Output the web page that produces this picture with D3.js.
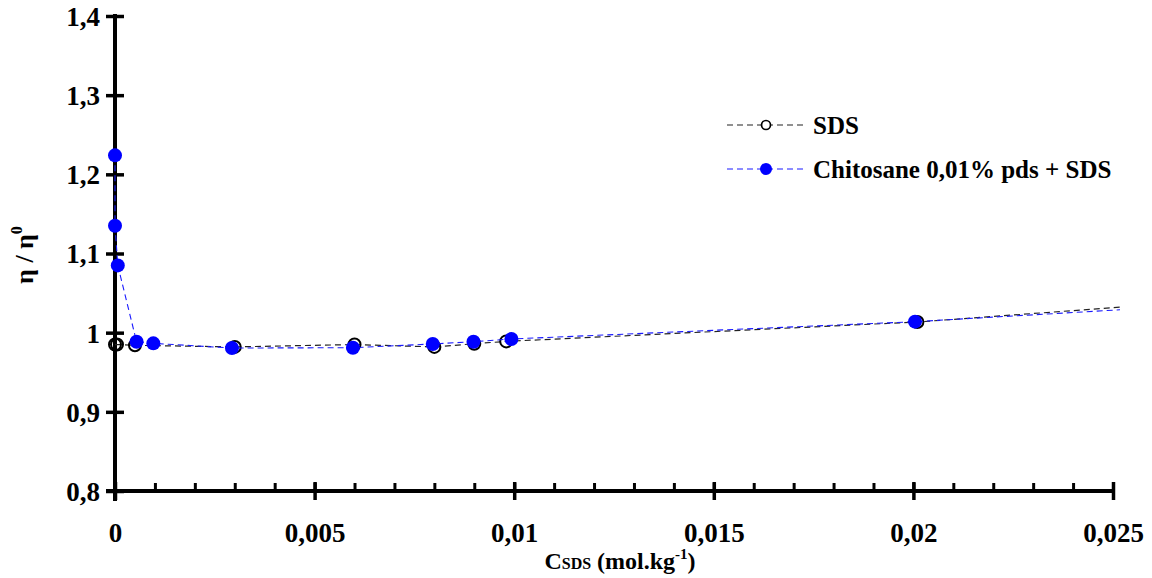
<!DOCTYPE html>
<html>
<head>
<meta charset="utf-8">
<script src="https://cdn.jsdelivr.net/npm/d3@7"></script>
<style>
  html, body { margin: 0; padding: 0; background: #fff; }
  svg { display: block; }
  text { font-family: "Liberation Serif", "Times New Roman", serif; font-weight: bold; fill: #000; }
</style>
</head>
<body>
<svg id="chart" width="1152" height="578"></svg>
<script>
// ---- data ----
const sdsX  = [0, 0.00005, 0.0005, 0.003, 0.006, 0.008, 0.009, 0.0098, 0.0201, 0.03];
const sdsY  = [0.985, 0.985, 0.984, 0.982, 0.985, 0.982, 0.986, 0.989, 1.0135, 1.05];
const chitX = [0, 0, 0.00007, 0.00054, 0.00096, 0.00293, 0.00596, 0.00796, 0.00898, 0.00993, 0.02004, 0.03];
const chitY = [1.224, 1.135, 1.085, 0.9886, 0.9865, 0.9806, 0.981, 0.9857, 0.9886, 0.992, 1.0139, 1.043];
const seriesNames = ["SDS", "Chitosane 0,01% pds + SDS"];
const xTickValues = [0, 0.005, 0.01, 0.015, 0.02, 0.025];
const xTickLabels = ["0", "0,005", "0,01", "0,015", "0,02", "0,025"];
const xMinorTicks = d3.range(0, 0.0251, 0.001);
const yTickValues = [0.8, 0.9, 1.0, 1.1, 1.2, 1.3, 1.4];
const yTickLabels = ["0,8", "0,9", "1", "1,1", "1,2", "1,3", "1,4"];

// ---- layout ----
const svg = d3.select("#chart");
const x = d3.scaleLinear().domain([0, 0.025]).range([115, 1113]);
const y = d3.scaleLinear().domain([0.8, 1.4]).range([491, 16]);
const axisY0 = 491;
const FONT = '"Liberation Serif", "Times New Roman", serif';

svg.append("defs").append("clipPath").attr("id", "plotclip")
  .append("rect").attr("x", 100).attr("y", 0).attr("width", 1020).attr("height", 500);

// ---- axes ----
// minor x ticks (upward only)
const gMinor = svg.append("g").attr("transform", `translate(0,${axisY0})`)
  .call(d3.axisBottom(x).tickValues(xMinorTicks).tickSize(0).tickFormat(""));
gMinor.select(".domain").remove();
gMinor.selectAll(".tick line").attr("y1", 0).attr("y2", -8)
  .attr("stroke", "#000").attr("stroke-width", 3);

// major x ticks (crossing)
const gx = svg.append("g").attr("transform", `translate(0,${axisY0})`)
  .call(d3.axisBottom(x).tickValues(xTickValues).tickSize(9)
    .tickFormat((d, i) => xTickLabels[i]));
gx.select(".domain").attr("d", `M106,0H1115`).attr("stroke", "#000").attr("stroke-width", 4);
gx.selectAll(".tick line").attr("y1", -9).attr("y2", 9).attr("stroke", "#000").attr("stroke-width", 3.5);
gx.selectAll(".tick text").attr("y", 51).attr("dy", 0)
  .style("font-size", "27px").style("font-family", FONT).style("font-weight", "bold");

// y axis
const gy = svg.append("g").attr("transform", `translate(${x(0)},0)`)
  .call(d3.axisLeft(y).tickValues(yTickValues).tickSize(9)
    .tickFormat((d, i) => yTickLabels[i]));
gy.select(".domain").attr("d", `M0,${y(1.4) - 2}V${axisY0 + 10}`).attr("stroke", "#000").attr("stroke-width", 4);
gy.selectAll(".tick line").attr("x1", 9).attr("x2", -9).attr("stroke", "#000").attr("stroke-width", 3.5);
gy.selectAll(".tick text").attr("x", -15).attr("dy", "0.35em")
  .style("font-size", "27px").style("font-family", FONT).style("font-weight", "bold");

// ---- series ----
const plot = svg.append("g").attr("clip-path", "url(#plotclip)");
const line = d3.line().x(d => x(d[0])).y(d => y(d[1]));
const sdsData = sdsX.map((v, i) => [v, sdsY[i]]);
const chitData = chitX.map((v, i) => [v, chitY[i]]);

plot.append("path").datum(sdsData).attr("d", line)
  .attr("fill", "none").attr("stroke", "#222").attr("stroke-width", 1.2).attr("stroke-dasharray", "6,4");
plot.selectAll(".sdsPt").data(sdsData).enter().append("circle")
  .attr("cx", d => x(d[0])).attr("cy", d => y(d[1])).attr("r", 6)
  .attr("fill", "none").attr("stroke", "#000").attr("stroke-width", 2);

plot.append("path").datum(chitData).attr("d", line)
  .attr("fill", "none").attr("stroke", "#1a1aff").attr("stroke-width", 1.1).attr("stroke-dasharray", "6,4");
plot.selectAll(".chitPt").data(chitData).enter().append("circle")
  .attr("cx", d => x(d[0])).attr("cy", d => y(d[1])).attr("r", 7)
  .attr("fill", "#0000ff");

// ---- legend ----
const leg = svg.append("g");
[125, 169].forEach((ly, i) => {
  leg.append("line").attr("x1", 727).attr("x2", 807).attr("y1", ly).attr("y2", ly)
    .attr("stroke", i === 0 ? "#222" : "#1a1aff").attr("stroke-width", 1.1).attr("stroke-dasharray", "6,4");
  if (i === 0) {
    leg.append("circle").attr("cx", 766).attr("cy", ly).attr("r", 4.5)
      .attr("fill", "#fff").attr("stroke", "#000").attr("stroke-width", 1.7);
  } else {
    leg.append("circle").attr("cx", 766).attr("cy", ly).attr("r", 6).attr("fill", "#0000ff");
  }
  leg.append("text").attr("x", 813).attr("y", ly + 9).style("font-size", "25px").text(seriesNames[i]);
});

// ---- axis titles ----
const xt = svg.append("text").attr("x", 620).attr("y", 569).attr("text-anchor", "middle").style("font-size", "24px");
xt.append("tspan").text("C");
xt.append("tspan").style("font-size", "16px").text("SDS");
xt.append("tspan").text(" (mol.kg");
xt.append("tspan").style("font-size", "15px").attr("dy", -10).text("-1");
xt.append("tspan").attr("dy", 10).text(")");

const yt = svg.append("text").attr("transform", "translate(33,255) rotate(-90)")
  .attr("text-anchor", "middle").style("font-size", "26px");
yt.append("tspan").text("η / η");
yt.append("tspan").style("font-size", "16px").attr("dy", -11).text("0");
</script>
</body>
</html>
